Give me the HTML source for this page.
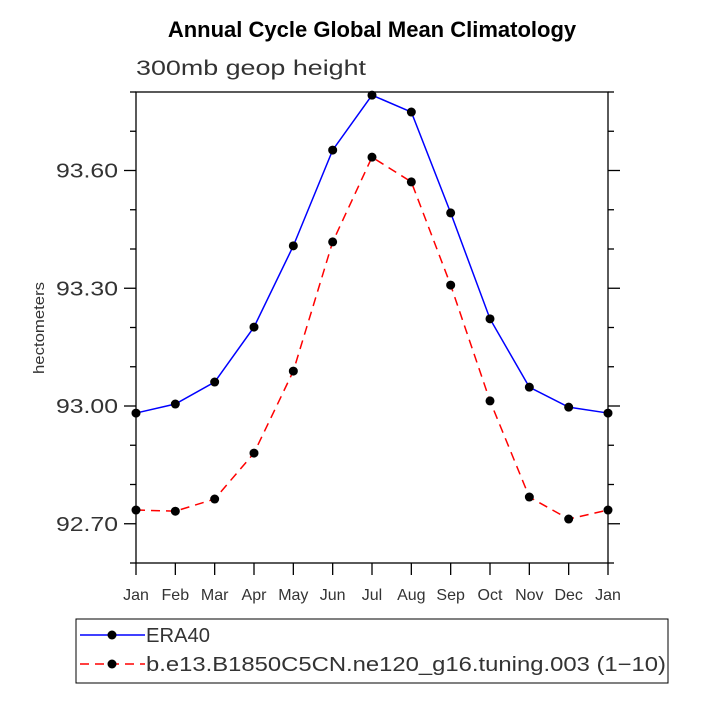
<!DOCTYPE html>
<html><head><meta charset="utf-8"><style>
body{margin:0;background:#fff}
svg{display:block;font-family:"Liberation Sans","DejaVu Sans",sans-serif}
</style></head><body>
<svg width="701" height="701" viewBox="0 0 701 701" xmlns="http://www.w3.org/2000/svg" id="c">
<text x="372" y="37" text-anchor="middle" font-family="Liberation Sans, sans-serif" font-weight="bold" font-size="22">Annual Cycle Global Mean Climatology</text>
<text x="136" y="75" font-size="21" fill="#333" textLength="230" lengthAdjust="spacingAndGlyphs">300mb geop height</text>
<text transform="translate(44,328) rotate(-90)" text-anchor="middle" font-size="15" fill="#333" textLength="92" lengthAdjust="spacingAndGlyphs">hectometers</text>
<g id="axes"></g>
<g id="series"></g>
<g>
<rect x="76" y="619" width="592" height="64" fill="none" stroke="#000" stroke-width="1"/>
<line x1="80" y1="635" x2="145" y2="635" stroke="#0000ff" stroke-width="1.5"/>
<circle cx="112" cy="635" r="4.5"/>
<text x="146" y="642" font-size="20" fill="#333" textLength="64" lengthAdjust="spacingAndGlyphs">ERA40</text>
<line x1="80" y1="664" x2="145" y2="664" stroke="#ff0000" stroke-width="1.5" stroke-dasharray="9,6"/>
<circle cx="112" cy="664" r="4.5"/>
<text x="146" y="671" font-size="20" fill="#333" textLength="520" lengthAdjust="spacingAndGlyphs">b.e13.B1850C5CN.ne120_g16.tuning.003 (1−10)</text>
</g>
</svg>
<script>
const months=["Jan","Feb","Mar","Apr","May","Jun","Jul","Aug","Sep","Oct","Nov","Dec","Jan"];
const era40=[92.982,93.005,93.061,93.201,93.408,93.652,93.792,93.749,93.492,93.222,93.048,92.997,92.982];
const model=[92.735,92.732,92.763,92.880,93.089,93.418,93.634,93.571,93.308,93.013,92.768,92.712,92.735];
const yTicks=[92.70,93.00,93.30,93.60];
const yMin=92.6,yMax=93.8;
const L=136,R=608,T=92,B=563;
const NS="http://www.w3.org/2000/svg";
const xs=i=>L+(R-L)*i/(months.length-1);
const ys=v=>B-(v-yMin)/(yMax-yMin)*(B-T);
function mk(tag,attrs,parent){const e=document.createElementNS(NS,tag);for(const k in attrs)e.setAttribute(k,attrs[k]);parent.appendChild(e);return e;}
const ax=document.getElementById('axes'),se=document.getElementById('series');
const fr=mk('rect',{x:L,y:T,width:R-L,height:B-T,fill:'none',stroke:'#000','stroke-width':1.3},ax);


for(let v=yMin;v<=yMax+1e-6;v+=0.1){
  const y=ys(v);const maj=yTicks.some(t=>Math.abs(t-v)<1e-6);const len=maj?12:6;
  mk('line',{x1:L-len,y1:y,x2:L,y2:y,stroke:'#000','stroke-width':1.3},ax);
  mk('line',{x1:R,y1:y,x2:R+len,y2:y,stroke:'#000','stroke-width':1.3},ax);
}
yTicks.forEach(t=>{
  const tx=mk('text',{x:L-18,y:ys(t)+7,'text-anchor':'end','font-size':20,fill:'#333',textLength:62,lengthAdjust:'spacingAndGlyphs'},ax);
  tx.textContent=t.toFixed(2);
  
  
});
months.forEach((m,i)=>{
  mk('line',{x1:xs(i),y1:B,x2:xs(i),y2:B+12,stroke:'#000','stroke-width':1.3},ax);
  const tx=mk('text',{x:xs(i),y:600,'text-anchor':'middle','font-size':16,fill:'#333'},ax);
  tx.textContent=m;
  
  
});
function draw(vals,color,dash,name){
  const p=mk('polyline',{points:vals.map((v,i)=>xs(i)+','+ys(v)).join(' '),fill:'none',stroke:color,'stroke-width':1.5},se);
  if(dash)p.setAttribute('stroke-dasharray',dash);
  
  
  vals.forEach((v,i)=>{
    const c=mk('circle',{cx:xs(i),cy:ys(v),r:4.5,fill:'#000'},se);
    
    
  });
}
draw(era40,'#0000ff',null,'era40');
draw(model,'#ff0000','9,6','model');
</script>
</body></html>
